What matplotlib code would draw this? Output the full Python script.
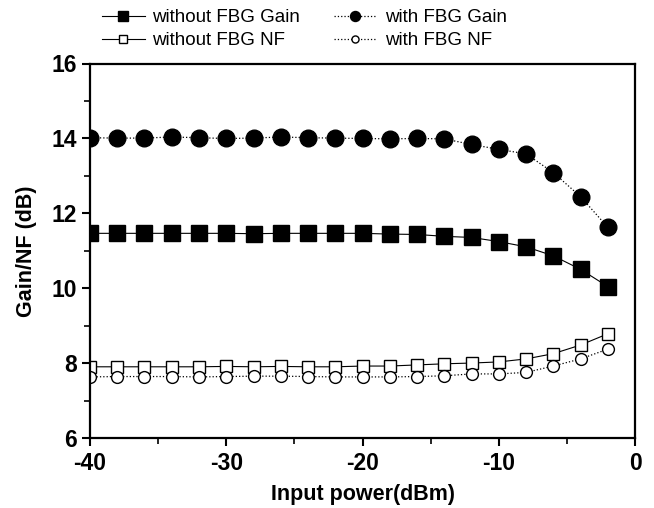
import matplotlib.pyplot as plt
from matplotlib.ticker import MultipleLocator

plt.rcParams['font.family'] = ['Liberation Sans', 'DejaVu Sans']
plt.rcParams['axes.unicode_minus'] = False

# Input power (dBm)
power = [-40, -38, -36, -34, -32, -30, -28, -26, -24, -22,
         -20, -18, -16, -14, -12, -10, -8, -6, -4, -2]

gain_without = [11.47, 11.47, 11.47, 11.47, 11.47, 11.47, 11.46, 11.47, 11.47, 11.47,
                11.47, 11.45, 11.44, 11.39, 11.36, 11.25, 11.11, 10.87, 10.51, 10.05]
gain_with = [14.02, 14.01, 14.01, 14.04, 14.02, 14.0, 14.01, 14.04, 14.02, 14.01,
             14.0, 13.99, 14.0, 13.99, 13.84, 13.71, 13.59, 13.09, 12.45, 11.63]
nf_without = [7.91, 7.91, 7.91, 7.91, 7.91, 7.92, 7.91, 7.92, 7.91, 7.91,
              7.93, 7.93, 7.96, 7.99, 8.01, 8.04, 8.12, 8.26, 8.49, 8.79]
nf_with = [7.64, 7.65, 7.65, 7.65, 7.64, 7.65, 7.66, 7.66, 7.65, 7.64,
           7.64, 7.64, 7.65, 7.67, 7.72, 7.72, 7.76, 7.93, 8.12, 8.38]

fig = plt.figure(figsize=(6.54, 5.08), dpi=100)
ax = fig.add_axes([0.1376, 0.137, 0.8334, 0.738])

ax.plot(power, gain_without, '-', color='black', lw=0.8, marker='s', ms=11,
        mfc='black', mec='black', label='without FBG Gain')
ax.plot(power, gain_with, ':', color='black', lw=0.9, marker='o', ms=12,
        mfc='black', mec='black', label='with FBG Gain')
ax.plot(power, nf_without, '-', color='black', lw=0.8, marker='s', ms=8.5,
        mfc='white', mec='black', mew=1.0, label='without FBG NF')
ax.plot(power, nf_with, ':', color='black', lw=0.9, marker='o', ms=8.5,
        mfc='white', mec='black', mew=1.0, label='with FBG NF')

ax.set_xlim(-40, 0)
ax.set_ylim(6, 16)
ax.xaxis.set_major_locator(MultipleLocator(10))
ax.xaxis.set_minor_locator(MultipleLocator(5))
ax.yaxis.set_major_locator(MultipleLocator(2))
ax.yaxis.set_minor_locator(MultipleLocator(1))
ax.tick_params(which='major', direction='out', length=6, width=1.5,
               labelsize=16.5)
ax.tick_params(which='minor', direction='out', length=4, width=1.2)
for lab in ax.get_xticklabels() + ax.get_yticklabels():
    lab.set_fontweight('bold')
for sp in ax.spines.values():
    sp.set_linewidth(1.6)

ax.set_xlabel('Input power(dBm)', fontsize=15.5, fontweight='bold', labelpad=7)
ax.set_ylabel('Gain/NF (dB)', fontsize=15.5, fontweight='bold', labelpad=10)

handles, labels = ax.get_legend_handles_labels()
order = [0, 2, 1, 3]
leg = fig.legend([handles[i] for i in order], [labels[i] for i in order],
                 loc='upper center', bbox_to_anchor=(0.465, 1.015), ncol=2,
                 frameon=False, fontsize=13.5, handlelength=2.3,
                 columnspacing=1.8, labelspacing=0.3, handletextpad=0.4,
                 markerscale=0.6)

fig.savefig('out.png', dpi=100)
